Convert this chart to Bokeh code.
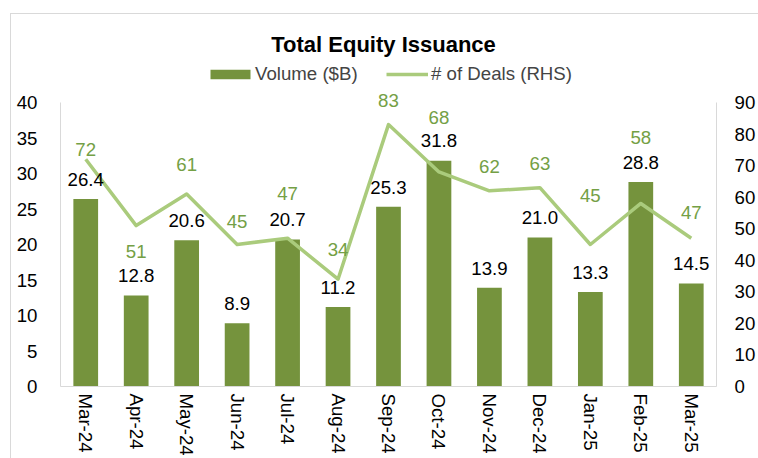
from bokeh.plotting import figure
from bokeh.models import (FactorRange, Range1d, LinearAxis, SingleIntervalTicker,
                          ColumnDataSource, Legend, LegendItem, Label, LabelSet)
from bokeh.core.properties import value
from bokeh.embed import file_html
from bokeh.resources import INLINE

# ---------------- data ----------------
months = ["Mar-24", "Apr-24", "May-24", "Jun-24", "Jul-24", "Aug-24", "Sep-24",
          "Oct-24", "Nov-24", "Dec-24", "Jan-25", "Feb-25", "Mar-25"]
volume = [26.4, 12.8, 20.6, 8.9, 20.7, 11.2, 25.3, 31.8, 13.9, 21.0, 13.3, 28.8, 14.5]
deals = [72, 51, 61, 45, 47, 34, 83, 68, 62, 63, 45, 58, 47]
title_text = "Total Equity Issuance"
volume_name = "Volume ($B)"
deals_name = "# of Deals (RHS)"
Y_MAX = 40
Y2_MAX = 90

# ---------------- styles ----------------
FONT = "Liberation Sans"
BAR = "#75933D"
LINE = "#AACB7C"
DEAL_TXT = "#74A045"
AXIS = "#D9D9D9"
# manual vertical placement (px, centre of label relative to point; negative = above)
deal_label_dy = [-10, 26, -30, -23, -45, -30, -24, -55, -25, -24, -49, -66, -26]
CAP_HALF = 6.7

W, H = 758, 458
ML, MR, MB = 60, 36, 72
FRAME_W = W - ML - MR
PLOT_TOP = 102                      # pixel row of the value 40
FRAME_H = H - MB                    # frame reaches the top of the canvas
PX_PER_UNIT = (H - MB - PLOT_TOP) / Y_MAX
Y_TOP = FRAME_H / PX_PER_UNIT
Y2_TOP = Y_TOP * Y2_MAX / Y_MAX


def px2x(px):  # canvas px -> synthetic x
    return (px - ML) / FRAME_W * len(months)


def px2y(py):  # canvas px -> left y data
    return (H - MB - py) / PX_PER_UNIT


src = ColumnDataSource(dict(
    month=months, volume=volume, deals=deals,
    vtxt=[f"{v:.1f}" for v in volume],
    dtxt=[str(d) for d in deals],
    ddy=[-(d + CAP_HALF) for d in deal_label_dy],
))

p = figure(x_range=FactorRange(factors=months), y_range=Range1d(0, Y_TOP),
           width=W, height=H, output_backend="svg", toolbar_location=None,
           min_border_left=ML, min_border_right=MR, min_border_top=0,
           min_border_bottom=MB)
p.extra_y_ranges = {"deals": Range1d(0, Y2_TOP)}
p.xgrid.visible = False
p.ygrid.visible = False
p.outline_line_color = None
p.background_fill_alpha = 0
p.border_fill_alpha = 0
p.styles = {
    "background-color": "white",
    "background-image": "linear-gradient(#D9D9D9, #D9D9D9), linear-gradient(#D9D9D9, #D9D9D9)",
    "background-position": "10px 13px, 10px 13px",
    "background-size": "1px 100%, 100% 1px",
    "background-repeat": "no-repeat",
}

bars = p.vbar(x="month", top="volume", width=0.49, source=src,
              fill_color=BAR, line_color=None)
line = p.line(x="month", y="deals", source=src, y_range_name="deals",
              line_color=LINE, line_width=3.5, line_join="round")

p.add_layout(LabelSet(x="month", y="volume", text="vtxt", source=src,
                      text_align="center", text_baseline="alphabetic",
                      y_offset=20 - CAP_HALF,
                      text_font=value(FONT), text_font_size="14pt",
                      text_color="black"))
p.add_layout(LabelSet(x="month", y="deals", text="dtxt", source=src,
                      y_range_name="deals",
                      text_align="center", text_baseline="alphabetic",
                      y_offset="ddy",
                      text_font=value(FONT), text_font_size="14pt",
                      text_color=DEAL_TXT))


def style_axis(ax):
    ax.axis_line_color = AXIS
    ax.axis_line_width = 1
    ax.major_tick_line_color = None
    ax.minor_tick_line_color = None
    ax.major_tick_out = 0
    ax.major_tick_in = 0
    ax.minor_tick_out = 0
    ax.minor_tick_in = 0
    ax.major_label_text_font = FONT
    ax.major_label_text_font_size = "14pt"
    ax.major_label_text_color = "black"


yax = p.yaxis[0]
style_axis(yax)
yax.ticker = SingleIntervalTicker(interval=5)
yax.bounds = (0, Y_MAX)
yax.major_label_standoff = 23

xax = p.xaxis[0]
style_axis(xax)
xax.major_label_orientation = "vertical"
xax.major_label_standoff = 7

rax = LinearAxis(y_range_name="deals", ticker=SingleIntervalTicker(interval=10),
                 bounds=(0, Y2_MAX))
style_axis(rax)
rax.major_label_standoff = 18
p.add_layout(rax, "right")

# legends
leg1 = Legend(items=[LegendItem(label=volume_name, renderers=[bars])],
              location=(145, 301), orientation="horizontal",
              glyph_width=50, glyph_height=12, label_height=12,
              label_standoff=0, padding=0, margin=0, spacing=0,
              border_line_color=None, background_fill_alpha=0,
              label_text_font=FONT, label_text_font_size="14pt")
leg2 = Legend(items=[LegendItem(label=deals_name, renderers=[line])],
              location=(326, 301), orientation="horizontal",
              glyph_width=42, glyph_height=12, label_height=12,
              label_standoff=3, padding=0, margin=0, spacing=0,
              border_line_color=None, background_fill_alpha=0,
              label_text_font=FONT, label_text_font_size="14pt")
p.add_layout(leg1, "center")
p.add_layout(leg2, "center")

# title
p.add_layout(Label(x=px2x(386), y=px2y(44), text=title_text,
                   text_align="center", text_baseline="alphabetic",
                   text_font=FONT, text_font_size="22px",
                   text_font_style="bold", text_color="black"))

open("out.html", "w").write(file_html(p, INLINE))
